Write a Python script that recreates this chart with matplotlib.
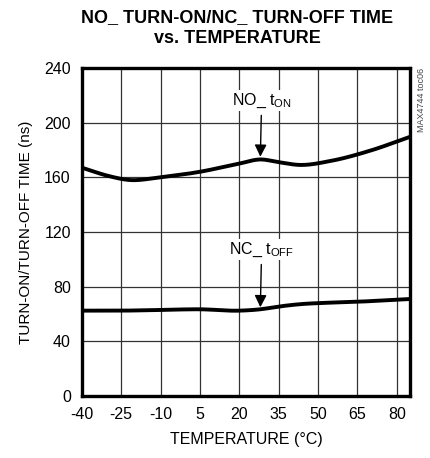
import matplotlib.pyplot as plt
import numpy as np

plt.rcParams['font.family'] = ['Liberation Sans Narrow', 'Liberation Sans', 'DejaVu Sans']
plt.rcParams['mathtext.fontset'] = 'custom'
plt.rcParams['mathtext.rm'] = 'Liberation Sans'
plt.rcParams['axes.unicode_minus'] = False

# data
temp = [-40, -30, -22, -10, 5, 20, 28, 35, 43, 55, 70, 85]
t_on = [167, 161, 158, 160, 164, 170, 173, 171, 169, 172, 179.5, 189.5]

temp_off = [-40, -25, -10, 5, 20, 28, 35, 45, 50, 65, 80, 85]
t_off = [62.5, 62.5, 63, 63.5, 62.5, 63.5, 65.5, 67.5, 68, 69, 70.5, 71]

xticks = [-40, -25, -10, 5, 20, 35, 50, 65, 80]
yticks = [0, 40, 80, 120, 160, 200, 240]


def smooth(x, y, n=300):
    # cubic hermite through the read points
    x = np.asarray(x, float)
    y = np.asarray(y, float)
    xs = np.linspace(x[0], x[-1], n)
    h = np.diff(x)
    d = np.diff(y) / h
    m = np.zeros_like(y)
    m[1:-1] = (d[:-1] * h[1:] + d[1:] * h[:-1]) / (h[:-1] + h[1:])
    m[0], m[-1] = d[0], d[-1]
    idx = np.clip(np.searchsorted(x, xs) - 1, 0, len(h) - 1)
    t = (xs - x[idx]) / h[idx]
    h00 = 2 * t**3 - 3 * t**2 + 1
    h10 = t**3 - 2 * t**2 + t
    h01 = -2 * t**3 + 3 * t**2
    h11 = t**3 - t**2
    ys = h00 * y[idx] + h10 * h[idx] * m[idx] + h01 * y[idx + 1] + h11 * h[idx] * m[idx + 1]
    return xs, ys


fig = plt.figure(figsize=(4.31, 4.58), dpi=100)
ax = fig.add_axes([0.190, 0.135, 0.761, 0.717])

ax.set_xlim(-40, 85)
ax.set_ylim(0, 240)
ax.set_xticks(xticks)
ax.set_yticks(yticks)
ax.grid(True, color='#333333', linewidth=0.9)
ax.set_axisbelow(True)
ax.tick_params(length=0, labelsize=11.5, pad=8)
for s in ax.spines.values():
    s.set_linewidth(2.4)

xs, ys = smooth(temp, t_on)
ax.plot(xs, ys, color='black', linewidth=2.8, zorder=3)
xs, ys = smooth(temp_off, t_off)
ax.plot(xs, ys, color='black', linewidth=2.8, zorder=3)

arrow = dict(arrowstyle='-|>', color='black', lw=1.0,
             mutation_scale=18, shrinkA=3, shrinkB=1)
ax.annotate('NO_ t$_{\\mathregular{ON}}$', xy=(28, 174), xytext=(28.5, 216),
            ha='center', va='center', fontsize=11.5,
            bbox=dict(facecolor='white', edgecolor='none', pad=1),
            arrowprops=arrow, zorder=4)
ax.annotate('NC_ t$_{\\mathregular{OFF}}$', xy=(28, 64), xytext=(28.5, 107),
            ha='center', va='center', fontsize=11.5,
            bbox=dict(facecolor='white', edgecolor='none', pad=1),
            arrowprops=arrow, zorder=4)

ax.set_xlabel('TEMPERATURE (°C)', fontsize=11.5, labelpad=7)
ax.set_ylabel('TURN-ON/TURN-OFF TIME (ns)', fontsize=11, labelpad=8)
fig.suptitle('NO_ TURN-ON/NC_ TURN-OFF TIME\nvs. TEMPERATURE', fontsize=13,
             fontweight='bold', x=0.55, y=0.98, linespacing=1.3)
fig.text(0.978, 0.852, 'MAX4744 toc06', rotation=90, fontsize=6.5,
         ha='center', va='top', color='#444444')

fig.savefig('out.png', dpi=100)
